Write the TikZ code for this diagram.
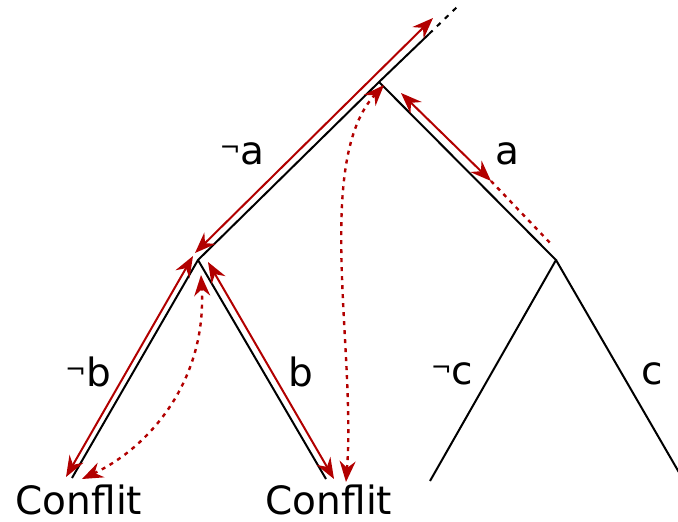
\documentclass[tikz,border=0pt]{standalone}
\usepackage{fontspec}
\setmainfont{DejaVu Sans}
\usetikzlibrary{arrows.meta}
\definecolor{trace}{RGB}{178,0,0}
\newcommand{\negsym}{{\fontsize{25}{25}\selectfont\raisebox{8pt}{¬}}}
\tikzset{
  edge/.style={line width=2pt, black},
  redpath/.style={line width=2pt, trace, {Stealth[length=21pt,width=16pt,inset=7pt]}-{Stealth[length=21pt,width=16pt,inset=7pt]}},
  reddot/.style={line width=2.4pt, trace, dash pattern=on 4pt off 5pt},
  reddotarrow/.style={reddot, {Stealth[length=21pt,width=16pt,inset=7pt]}-{Stealth[length=21pt,width=16pt,inset=7pt]}},
  lbl/.style={font=\fontsize{39}{39}\selectfont, anchor=base, inner sep=0pt}
}
\begin{document}
\begin{tikzpicture}[x=1pt,y=-1pt]
\useasboundingbox (0,0) rectangle (678,522);
% tree coordinates
\coordinate (top) at (429,34);
\coordinate (topd) at (457,7);
\coordinate (R) at (379,82);
\coordinate (B) at (198,260);
\coordinate (C) at (556,260);
\coordinate (L1) at (72,478);
\coordinate (L2) at (326,479);
\coordinate (L3) at (430,481);
\coordinate (L4) at (684,481);
% black edges
\draw[edge] (top) -- (R) -- (B) -- (L1);
\draw[edge] (B) -- (L2);
\draw[edge] (R) -- (C) -- (L3);
\draw[edge] (C) -- (L4);
\draw[edge, dash pattern=on 5pt off 6pt] (top) -- (topd);
% labels
\node[lbl] (na) at (242,164) {\negsym a};
\node[lbl] (pa) at (507,164) {a};
\node[lbl] (nb) at (88,386) {\negsym b};
\node[lbl] (pb) at (301,386) {b};
\node[lbl] (nc) at (452,384) {\negsym c};
\node[lbl] (pc) at (652,384) {c};
\node[lbl] (c1) at (79,514) {Conflit};
\node[lbl] (c2) at (329,514) {Conflit};
% red trace coordinates
\coordinate (r1s) at (433,18);
\coordinate (r1e) at (195,253);
\coordinate (r2s) at (193,256);
\coordinate (r2e) at (66,477);
\coordinate (r3s) at (208,262);
\coordinate (r3e) at (334,479);
\coordinate (r4s) at (401,93);
\coordinate (r4e) at (491,181);
\coordinate (r5e) at (553,246);
\coordinate (d1s) at (82,479);
\coordinate (d1e) at (201,275);
\coordinate (d2s) at (346,482);
\coordinate (d2e) at (384,85);
% red trace
\draw[redpath] (r1s) -- (r1e);
\draw[redpath] (r2s) -- (r2e);
\draw[redpath] (r3s) -- (r3e);
\draw[redpath] (r4s) -- (r4e);
\draw[reddot] (r4e) -- (r5e);
\draw[reddotarrow] (d1s) .. controls (150,447) and (207,380) .. (d1e);
\draw[reddotarrow] (d2s) .. controls (356,350) and (314,160) .. (d2e);
\end{tikzpicture}
\end{document}
